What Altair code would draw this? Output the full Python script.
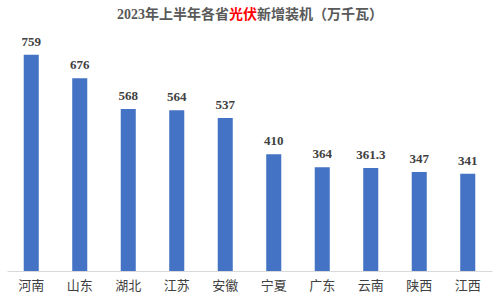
import altair as alt
import pandas as pd

provinces = ["河南", "山东", "湖北", "江苏", "安徽", "宁夏", "广东", "云南", "陕西", "江西"]
values = [759, 676, 568, 564, 537, 410, 364, 361.3, 347, 341]
labels = ["759", "676", "568", "564", "537", "410", "364", "361.3", "347", "341"]

df = pd.DataFrame({"province": provinces, "value": values, "label": labels})

W, H = 485, 228
FONT = "Liberation Serif, Noto Sans CJK SC"

x = alt.X("province:N", sort=provinces, title=None,
          scale=alt.Scale(paddingInner=0.69, paddingOuter=0.345),
          axis=alt.Axis(labelAngle=0, ticks=False, domainColor="#d9d9d9",
                        labelFontSize=13, labelColor="#404040", labelPadding=8,
                        labelFont="Noto Sans CJK SC"))
y = alt.Y("value:Q", scale=alt.Scale(domain=[0, 800]), axis=None)

bars = alt.Chart(df).mark_bar(color="#4472C4").encode(x=x, y=y)
text = alt.Chart(df).mark_text(baseline="bottom", dy=-6, fontSize=13, fontWeight="bold",
                               font="Liberation Serif", color="#404040").encode(
    x=x, y=y, text="label:N")

tdf = pd.DataFrame({"a": ["2023年上半年各省"], "b": ["光伏"], "c": ["新增装机（万千瓦）"]})
t1 = alt.Chart(tdf).mark_text(align="right", baseline="middle", fontSize=14, fontWeight="bold",
                              font=FONT, color="#595959").encode(
    x=alt.value(222), y=alt.value(-28), text="a:N")
t2 = alt.Chart(tdf).mark_text(align="left", baseline="middle", fontSize=14, fontWeight="bold",
                              font=FONT, color="#FF0000").encode(
    x=alt.value(222), y=alt.value(-28), text="b:N")
t3 = alt.Chart(tdf).mark_text(align="left", baseline="middle", fontSize=14, fontWeight="bold",
                              font=FONT, color="#595959").encode(
    x=alt.value(250), y=alt.value(-28), text="c:N")

chart = alt.layer(bars, text, t1, t2, t3).properties(
    width=W, height=H,
    padding={"left": 7, "top": 43, "right": 8, "bottom": 31},
    autosize=alt.AutoSizeParams(type="none"),
    background="white",
).configure_view(stroke=None)

chart.save("out.html", embed_options={"renderer": "svg", "actions": False})
